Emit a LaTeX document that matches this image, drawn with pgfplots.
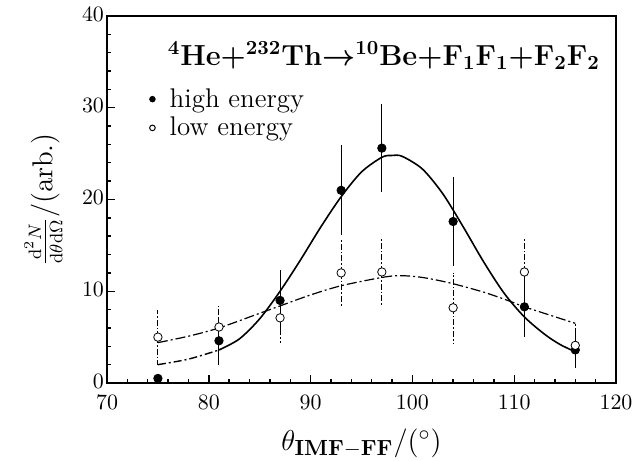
\documentclass[border=0pt]{standalone}
\usepackage{amsmath, bm}
\usepackage{pgfplots}
\pgfplotsset{compat=1.18}

\begin{document}
\begin{tikzpicture}
\begin{axis}[
    name=ax,
    scale only axis,
    width=254.5pt, height=183.5pt,
    xmin=70, xmax=120, ymin=0, ymax=40,
    xtick={70,80,...,120}, ytick={0,10,...,40},
    minor x tick num=4, minor y tick num=4,
    xtick pos=lower, ytick pos=left,
    tick align=inside,
    major tick length=4pt, minor tick length=2.2pt,
    axis line style={line width=1.2pt},
    every tick/.style={black, line width=0.7pt},
    tick label style={font=\fontsize{11}{12}\selectfont},
    yticklabel style={xshift=2pt, yshift=1pt},
    xticklabel style={yshift=-2.5pt},
    xlabel={$\theta_{\mathbf{IMF-FF}}/(^{\circ})$},
    xlabel style={at={(axis description cs:0.5,-0.165)}, anchor=center,
                  font=\fontsize{15.5}{17}\selectfont},
    ylabel={$\frac{\mathrm{d}^2N}{\mathrm{d}\theta\mathrm{d}\Omega}/(\mathrm{arb.})$},
    ylabel style={at={(axis description cs:-0.125,0.5)}, anchor=center,
                  font=\fontsize{13.5}{15}\selectfont},
    legend style={draw=none, fill=none, at={(0.082,0.815)}, anchor=north west,
                  font=\fontsize{13.5}{14}\selectfont, row sep=-0.5pt,
                  column sep=5pt, inner sep=0pt},
    legend cell align=left,
    legend image code/.code={\draw[#1] (0,0) circle (1.4pt);},
]
% high energy fit (dash-dot to the left of 81, solid beyond)
\addplot[black, line width=0.7pt, dash pattern=on 4pt off 1.5pt on 1pt off 1.5pt, smooth, forget plot]
  coordinates {(75,2.0)(78,2.6)(81,3.6)};
\addplot[black, line width=0.8pt, smooth, forget plot]
  coordinates {(81,3.6)(83,4.8)(85,7.0)(87,10.0)(89,13.4)(91,17.0)(93,20.3)
               (95,23.0)(97,24.6)(98,24.8)(99,24.7)(101,23.3)(103,20.6)
               (105,17.0)(107,13.2)(109,9.8)(111,7.2)(113,5.3)(114.5,4.2)(116,3.4)};
% low energy fit
\addplot[black, line width=0.6pt, dash pattern=on 5pt off 1.5pt on 1pt off 1.5pt, smooth, forget plot]
  coordinates {(75,4.4)(78,5.1)(81,6.0)(85,7.6)(87,8.4)(90,9.6)(93,10.6)
               (97,11.5)(98.8,11.7)(101,11.5)(103.7,10.9)(107,9.9)
               (109.6,8.9)(111,8.3)(113.5,7.4)(116,6.5)};
% high energy data
\addplot[black, only marks, mark=*, mark size=2.1pt, forget plot,
         error bars/.cd, y dir=both, y explicit, error mark=none,
         error bar style={line width=0.5pt, solid}]
  coordinates {(75,0.5) +- (0,0.3) (81,4.6) +- (0,2.6) (87,9.0) +- (0,3.3)
               (93,21.0) +- (0,4.9) (97,25.6) +- (0,4.8) (104,17.6) +- (0,4.9)
               (111,8.3) +- (0,3.3) (116,3.6) +- (0,2.0)};
% low energy data
\addplot[black, only marks, mark=*, mark options={fill=white}, mark size=2.1pt, forget plot,
         error bars/.cd, y dir=both, y explicit, error mark=none,
         error bar style={line width=0.5pt, dash pattern=on 3pt off 1pt on 0.8pt off 1pt}]
  coordinates {(75,5.0) +- (0,3.0) (81,6.1) +- (0,2.4) (87,7.1) +- (0,2.7)
               (93,12.0) +- (0,3.7) (97,12.1) +- (0,3.6) (104,8.2) +- (0,3.8)
               (111,12.1) +- (0,3.6) (116,4.1) +- (0,2.5)};
\addlegendimage{draw=black, fill=black}
\addlegendentry{high energy}
\addlegendimage{draw=black, fill=white, line width=0.5pt}
\addlegendentry{low energy}
\node[anchor=base east, font=\fontsize{14.5}{16}\selectfont\bfseries\boldmath]
  at (rel axis cs:0.982,0.866)
  {$^{4}$He$+^{232}$Th$\rightarrow$$^{10}$Be$+$F$_1$F$_1$$+$F$_2$F$_2$};
\end{axis}
\pgfresetboundingbox
\path ([shift={(-53.5pt,-39pt)}]ax.south west) rectangle ([shift={(11pt,8pt)}]ax.north east);
\end{tikzpicture}
\end{document}
